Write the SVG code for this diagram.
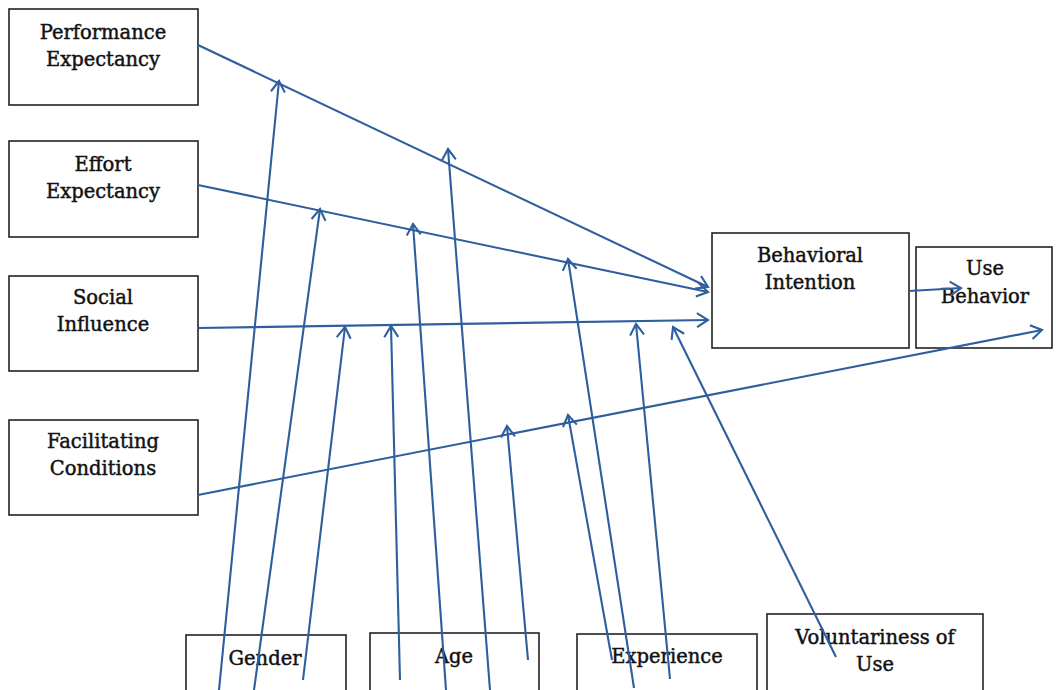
<svg xmlns="http://www.w3.org/2000/svg" width="1056" height="690" viewBox="0 0 1056 690">
<style>
.box{fill:#fff;stroke:#222;stroke-width:1.6}
.t{font-family:"DejaVu Serif","Liberation Serif",serif;font-size:19.5px;fill:#111;stroke:#111;stroke-width:0.45;text-anchor:middle}
.c{fill:none;stroke:#2f5e9e;stroke-width:2.1;marker-end:url(#ah)}
</style>
<defs>
<marker id="ah" markerUnits="userSpaceOnUse" markerWidth="20" markerHeight="20" viewBox="-12 -10 14 20" refX="0" refY="0" orient="auto">
<path d="M-11,-7 L0,0 L-11,7" fill="none" stroke="#2f5e9e" stroke-width="2.1"/>
</marker>
</defs>
<rect width="1056" height="690" fill="#fff"/>
<g id="nodes">
<g id="pe"><rect class="box" x="9" y="9" width="189" height="96"/><text class="t" x="103" y="39">Performance</text><text class="t" x="103" y="66">Expectancy</text></g>
<g id="ee"><rect class="box" x="9" y="141" width="189" height="96"/><text class="t" x="103" y="171">Effort</text><text class="t" x="103" y="198">Expectancy</text></g>
<g id="si"><rect class="box" x="9" y="276" width="189" height="95"/><text class="t" x="103" y="304">Social</text><text class="t" x="103" y="331">Influence</text></g>
<g id="fc"><rect class="box" x="9" y="420" width="189" height="95"/><text class="t" x="103" y="448">Facilitating</text><text class="t" x="103" y="475">Conditions</text></g>
<g id="bi"><rect class="box" x="712" y="233" width="197" height="115"/><text class="t" x="810" y="262">Behavioral</text><text class="t" x="810" y="289">Intention</text></g>
<g id="ub"><rect class="box" x="916" y="247" width="136" height="101"/><text class="t" x="985" y="275">Use</text><text class="t" x="985" y="303">Behavior</text></g>
<g id="gender"><rect class="box" x="186" y="635" width="160" height="70"/><text class="t" x="265" y="665">Gender</text></g>
<g id="age"><rect class="box" x="370" y="633" width="169" height="70"/><text class="t" x="454" y="663">Age</text></g>
<g id="exp"><rect class="box" x="577" y="634" width="180" height="70"/><text class="t" x="667" y="663">Experience</text></g>
<g id="vol"><rect class="box" x="767" y="614" width="216" height="90"/><text class="t" x="875" y="644">Voluntariness of</text><text class="t" x="875" y="671">Use</text></g>
</g>
<g id="connectors">
<path class="c" d="M198,45 L708,287"/>
<path class="c" d="M198,185 L708,292"/>
<path class="c" d="M198,328 L708,320"/>
<path class="c" d="M198,495 L1042,330"/>
<path class="c" d="M909,291 L961,288"/>
<path class="c" d="M219,690 L279,81"/>
<path class="c" d="M254,690 L320,209"/>
<path class="c" d="M303,680 L345,327"/>
<path class="c" d="M400,680 L391,326"/>
<path class="c" d="M446,690 L413,224"/>
<path class="c" d="M490,690 L448,149"/>
<path class="c" d="M528,660 L507,426"/>
<path class="c" d="M612,660 L568,415"/>
<path class="c" d="M634,688 L568,259"/>
<path class="c" d="M670,679 L636,324"/>
<path class="c" d="M836,657 L673,327"/>
</g>
</svg>
